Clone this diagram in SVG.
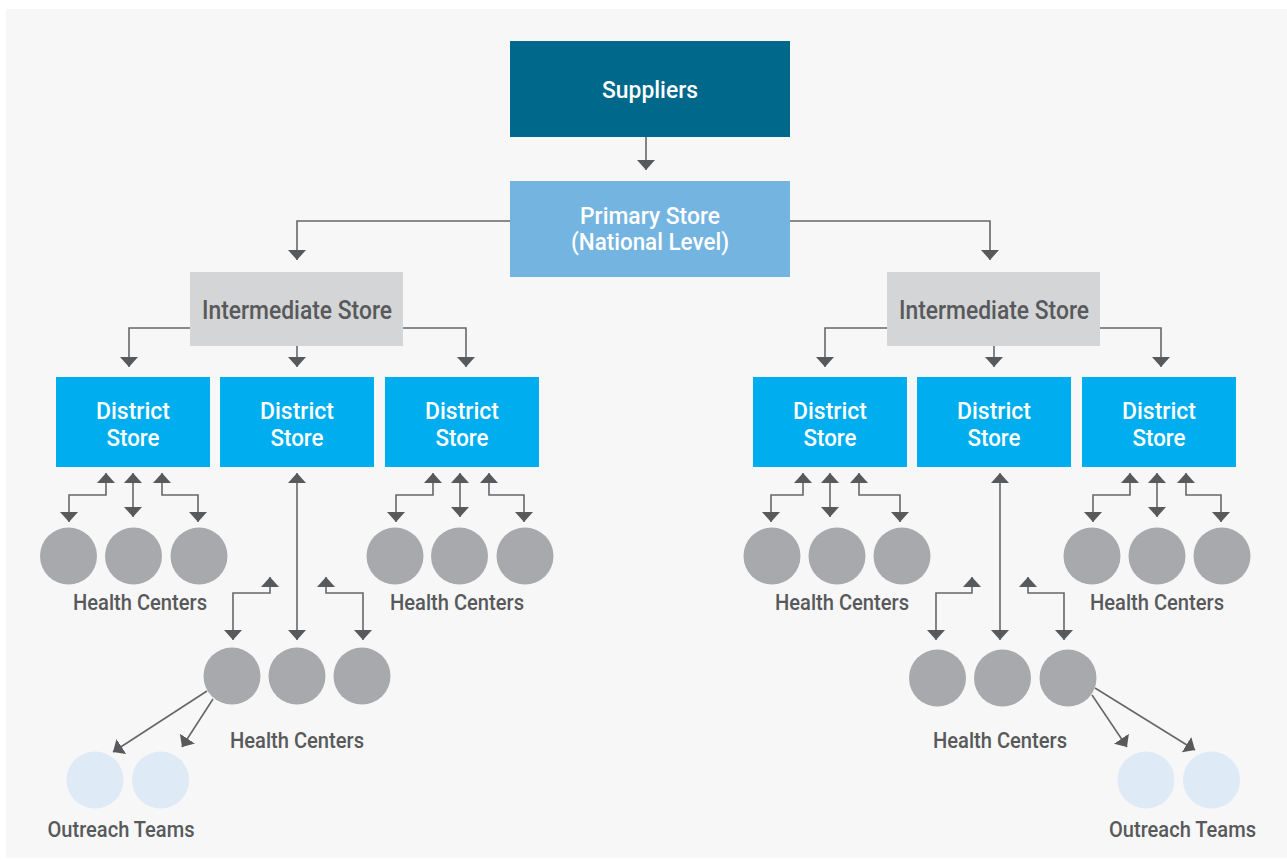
<svg xmlns="http://www.w3.org/2000/svg" width="1287" height="861" viewBox="0 0 1287 861">
<style>
.t{font-family:Roboto,"Liberation Sans",sans-serif;font-weight:500;text-anchor:middle}
.w{fill:#ffffff;font-size:24px}
.g{fill:#58595b;font-size:22px}
.gi{fill:#58595b;font-size:26px}
.hc{fill:#a7a9ac}
.ot{fill:#dfeaf7}
.c path{fill:none;stroke:#666769;stroke-width:1.6}
.a{marker-end:url(#ah)}
.d{marker-start:url(#ah);marker-end:url(#ah)}
</style>
<defs>
<marker id="ah" viewBox="0 0 10 10" refX="10" refY="5" markerUnits="userSpaceOnUse" markerWidth="10" markerHeight="18" orient="auto-start-reverse" preserveAspectRatio="none">
<path d="M0,0 L10,5 L0,10 z" fill="#58595b"/>
</marker>
</defs>
<rect x="6" y="9" width="1281" height="849" fill="#f7f7f7"/>

<g id="connectors" class="c">
<path class="a" d="M646,137 V170"/>
<path class="a" d="M510,221 H297 V260"/>
<path class="a" d="M790,221 H990 V260"/>
<path class="a" d="M190,328 H129 V367"/>
<path class="a" d="M297,346 V367"/>
<path class="a" d="M403,328 H466 V367"/>
<path class="a" d="M887,328 H825 V367"/>
<path class="a" d="M994,346 V367"/>
<path class="a" d="M1100,328 H1161 V367"/>
<path class="d" d="M106,473 V495 H69 V522"/>
<path class="d" d="M133,473 V517"/>
<path class="d" d="M162,473 V495 H198 V522"/>
<path class="d" d="M433,473 V495 H396 V522"/>
<path class="d" d="M460,473 V517"/>
<path class="d" d="M489,473 V495 H524 V522"/>
<path class="d" d="M803,473 V495 H771 V522"/>
<path class="d" d="M830,473 V517"/>
<path class="d" d="M859,473 V495 H900 V522"/>
<path class="d" d="M1130,473 V495 H1093 V522"/>
<path class="d" d="M1157,473 V517"/>
<path class="d" d="M1186,473 V495 H1221 V522"/>
<path class="d" d="M297,473 V640"/>
<path class="d" d="M270,577 V593 H233 V640"/>
<path class="d" d="M326,577 V593 H363 V640"/>
<path class="d" d="M1000,473 V640"/>
<path class="d" d="M972,577 V593 H936 V640"/>
<path class="d" d="M1028,577 V593 H1064 V640"/>
<path class="a" d="M207,691 L113,752"/>
<path class="a" d="M213,699 L182,747"/>
<path class="a" d="M1092,695 L1127,747"/>
<path class="a" d="M1095,688 L1195,750"/>
</g>

<g id="suppliers">
<rect x="510" y="41" width="280" height="96" fill="#00688b"/>
<text class="t w" x="650" y="98" textLength="96" lengthAdjust="spacingAndGlyphs">Suppliers</text>
</g>
<g id="primary-store">
<rect x="510" y="181" width="280" height="96" fill="#74b4e1"/>
<text class="t w" x="650" y="224" font-size="22" textLength="140" lengthAdjust="spacingAndGlyphs">Primary Store</text>
<text class="t w" x="650" y="250" font-size="22" textLength="158" lengthAdjust="spacingAndGlyphs">(National Level)</text>
</g>
<g id="intermediate-left">
<rect x="190" y="272" width="213" height="74" fill="#d4d5d7"/>
<text class="t gi" x="297" y="319" textLength="190" lengthAdjust="spacingAndGlyphs">Intermediate Store</text>
</g>
<g id="intermediate-right">
<rect x="887" y="272" width="213" height="74" fill="#d4d5d7"/>
<text class="t gi" x="994" y="319" textLength="190" lengthAdjust="spacingAndGlyphs">Intermediate Store</text>
</g>

<g id="district-l1">
<rect x="56" y="377" width="154" height="90" fill="#00aeef"/>
<text class="t w" x="133" y="419" textLength="74" lengthAdjust="spacingAndGlyphs">District</text>
<text class="t w" x="133" y="446" textLength="53" lengthAdjust="spacingAndGlyphs">Store</text>
</g>
<g id="district-l2">
<rect x="220" y="377" width="154" height="90" fill="#00aeef"/>
<text class="t w" x="297" y="419" textLength="74" lengthAdjust="spacingAndGlyphs">District</text>
<text class="t w" x="297" y="446" textLength="53" lengthAdjust="spacingAndGlyphs">Store</text>
</g>
<g id="district-l3">
<rect x="385" y="377" width="154" height="90" fill="#00aeef"/>
<text class="t w" x="462" y="419" textLength="74" lengthAdjust="spacingAndGlyphs">District</text>
<text class="t w" x="462" y="446" textLength="53" lengthAdjust="spacingAndGlyphs">Store</text>
</g>
<g id="district-r1">
<rect x="753" y="377" width="154" height="90" fill="#00aeef"/>
<text class="t w" x="830" y="419" textLength="74" lengthAdjust="spacingAndGlyphs">District</text>
<text class="t w" x="830" y="446" textLength="53" lengthAdjust="spacingAndGlyphs">Store</text>
</g>
<g id="district-r2">
<rect x="917" y="377" width="154" height="90" fill="#00aeef"/>
<text class="t w" x="994" y="419" textLength="74" lengthAdjust="spacingAndGlyphs">District</text>
<text class="t w" x="994" y="446" textLength="53" lengthAdjust="spacingAndGlyphs">Store</text>
</g>
<g id="district-r3">
<rect x="1082" y="377" width="154" height="90" fill="#00aeef"/>
<text class="t w" x="1159" y="419" textLength="74" lengthAdjust="spacingAndGlyphs">District</text>
<text class="t w" x="1159" y="446" textLength="53" lengthAdjust="spacingAndGlyphs">Store</text>
</g>

<g id="health-l1">
<circle class="hc" cx="68.5" cy="556" r="28.5"/>
<circle class="hc" cx="133.5" cy="556" r="28.5"/>
<circle class="hc" cx="199" cy="556" r="28.5"/>
<text class="t g" x="140" y="610" textLength="134" lengthAdjust="spacingAndGlyphs">Health Centers</text>
</g>
<g id="health-l3">
<circle class="hc" cx="395" cy="556" r="28.5"/>
<circle class="hc" cx="459.5" cy="556" r="28.5"/>
<circle class="hc" cx="525" cy="556" r="28.5"/>
<text class="t g" x="457" y="610" textLength="134" lengthAdjust="spacingAndGlyphs">Health Centers</text>
</g>
<g id="health-l2">
<circle class="hc" cx="232" cy="676" r="28.5"/>
<circle class="hc" cx="297" cy="676" r="28.5"/>
<circle class="hc" cx="362" cy="676" r="28.5"/>
<text class="t g" x="297" y="748" textLength="134" lengthAdjust="spacingAndGlyphs">Health Centers</text>
</g>
<g id="health-r1">
<circle class="hc" cx="772" cy="556" r="28.5"/>
<circle class="hc" cx="837" cy="556" r="28.5"/>
<circle class="hc" cx="902" cy="556" r="28.5"/>
<text class="t g" x="842" y="610" textLength="134" lengthAdjust="spacingAndGlyphs">Health Centers</text>
</g>
<g id="health-r3">
<circle class="hc" cx="1092" cy="556" r="28.5"/>
<circle class="hc" cx="1157" cy="556" r="28.5"/>
<circle class="hc" cx="1222" cy="556" r="28.5"/>
<text class="t g" x="1157" y="610" textLength="134" lengthAdjust="spacingAndGlyphs">Health Centers</text>
</g>
<g id="health-r2">
<circle class="hc" cx="937.5" cy="678" r="28.5"/>
<circle class="hc" cx="1002.5" cy="678" r="28.5"/>
<circle class="hc" cx="1068" cy="678" r="28.5"/>
<text class="t g" x="1000" y="748" textLength="134" lengthAdjust="spacingAndGlyphs">Health Centers</text>
</g>
<g id="outreach-left">
<circle class="ot" cx="95" cy="780" r="28.5"/>
<circle class="ot" cx="160.5" cy="780" r="28.5"/>
<text class="t g" x="121" y="837" textLength="147" lengthAdjust="spacingAndGlyphs">Outreach Teams</text>
</g>
<g id="outreach-right">
<circle class="ot" cx="1146" cy="780" r="28.5"/>
<circle class="ot" cx="1211.5" cy="780" r="28.5"/>
<text class="t g" x="1182.5" y="837" textLength="147" lengthAdjust="spacingAndGlyphs">Outreach Teams</text>
</g>
</svg>
